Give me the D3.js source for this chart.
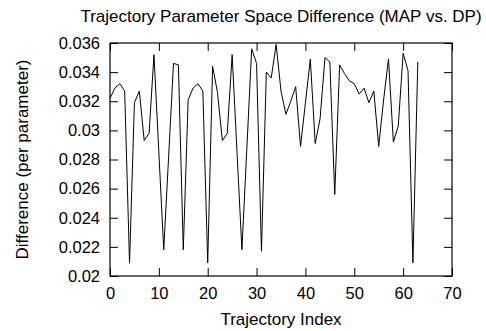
<!DOCTYPE html>
<html>
<head>
<meta charset="utf-8">
<script src="https://cdn.jsdelivr.net/npm/d3@7"></script>
<style>
  html, body { margin: 0; padding: 0; background: #fff; }
  svg { display: block; }
  text { font-family: "Liberation Sans", Arial, Helvetica, sans-serif; fill: #000; }
</style>
</head>
<body>
<svg id="chart" width="486" height="331"></svg>
<script>
// Per-trajectory parameter-space difference between MAP and DP estimates
const trajectoryIndex = d3.range(0, 64);
const difference = [
  0.0322, 0.0329, 0.0332, 0.0327, 0.0209, 0.0319, 0.0327, 0.0293, 0.0298, 0.0352,
  0.0285, 0.0218, 0.0282, 0.0346, 0.0345, 0.0218, 0.0321, 0.0329, 0.0332, 0.0327,
  0.0209, 0.0344, 0.0326, 0.0293, 0.0298, 0.0352, 0.0285, 0.0218, 0.0287, 0.0356,
  0.0346, 0.0217, 0.0340, 0.0336, 0.0359, 0.0327, 0.0311, 0.0320, 0.0330, 0.0289,
  0.0319, 0.0349, 0.0291, 0.0308, 0.0350, 0.0347, 0.0256, 0.0345, 0.0339, 0.0334,
  0.0332, 0.0325, 0.0329, 0.0319, 0.0327, 0.0289, 0.0321, 0.0349, 0.0292, 0.0303,
  0.0353, 0.0341, 0.0209, 0.0347
];
const xTicks = [0, 10, 20, 30, 40, 50, 60, 70];
const yTicks = [0.02, 0.022, 0.024, 0.026, 0.028, 0.03, 0.032, 0.034, 0.036];
const yTickLabels = ["0.02", "0.022", "0.024", "0.026", "0.028", "0.03", "0.032", "0.034", "0.036"];

const titleText = "Trajectory Parameter Space Difference (MAP vs. DP)";
const xLabel = "Trajectory Index";
const yLabel = "Difference (per parameter)";

const svg = d3.select("#chart");
const plotLeft = 110, plotRight = 452, plotTop = 43, plotBottom = 276;
const tickLen = 8;
const tickFont = 16.5;
const labelFont = 17;

const x = d3.scaleLinear().domain([0, 70]).range([plotLeft, plotRight]);
const y = d3.scaleLinear().domain([0.02, 0.036]).range([plotBottom, plotTop]);

// axes with ticks pointing into the plot, mirrored on the opposite sides
const g = svg.append("g");

const xAxisBottom = d3.axisBottom(x).tickValues(xTicks).tickSize(-tickLen).tickPadding(11).tickFormat(d3.format("d"));
const xAxisTop = d3.axisTop(x).tickValues(xTicks).tickSize(-tickLen).tickFormat("");
const yAxisLeft = d3.axisLeft(y).tickValues(yTicks).tickSize(-tickLen).tickPadding(10)
  .tickFormat((d, i) => yTickLabels[i]);
const yAxisRight = d3.axisRight(y).tickValues(yTicks).tickSize(-tickLen).tickFormat("");

function style(sel) {
  sel.select(".domain").remove();
  sel.selectAll(".tick line").attr("stroke", "#000").attr("stroke-width", 1);
  sel.selectAll(".tick text").attr("font-size", tickFont).attr("fill", "#000")
    .attr("font-family", "Liberation Sans, Arial, sans-serif");
}

g.append("g").attr("transform", `translate(0,${plotBottom})`).call(xAxisBottom).call(style);
g.append("g").attr("transform", `translate(0,${plotTop})`).call(xAxisTop).call(style);
g.append("g").attr("transform", `translate(${plotLeft},0)`).call(yAxisLeft).call(style);
g.append("g").attr("transform", `translate(${plotRight},0)`).call(yAxisRight).call(style);

// border box
g.append("rect")
  .attr("x", plotLeft).attr("y", plotTop)
  .attr("width", plotRight - plotLeft).attr("height", plotBottom - plotTop)
  .attr("fill", "none").attr("stroke", "#000").attr("stroke-width", 1.2);

// data line
const line = d3.line()
  .x((d, i) => x(trajectoryIndex[i]))
  .y(d => y(d));

g.append("path")
  .datum(difference)
  .attr("d", line)
  .attr("fill", "none")
  .attr("stroke", "#000")
  .attr("stroke-width", 1);

// title and axis labels
svg.append("text")
  .attr("x", (plotLeft + plotRight) / 2).attr("y", 22)
  .attr("text-anchor", "middle").attr("font-size", labelFont)
  .text(titleText);

svg.append("text")
  .attr("x", (plotLeft + plotRight) / 2).attr("y", 325)
  .attr("text-anchor", "middle").attr("font-size", labelFont)
  .text(xLabel);

svg.append("text")
  .attr("transform", `translate(28,${(plotTop + plotBottom) / 2}) rotate(-90)`)
  .attr("text-anchor", "middle").attr("font-size", labelFont)
  .text(yLabel);
</script>
</body>
</html>
